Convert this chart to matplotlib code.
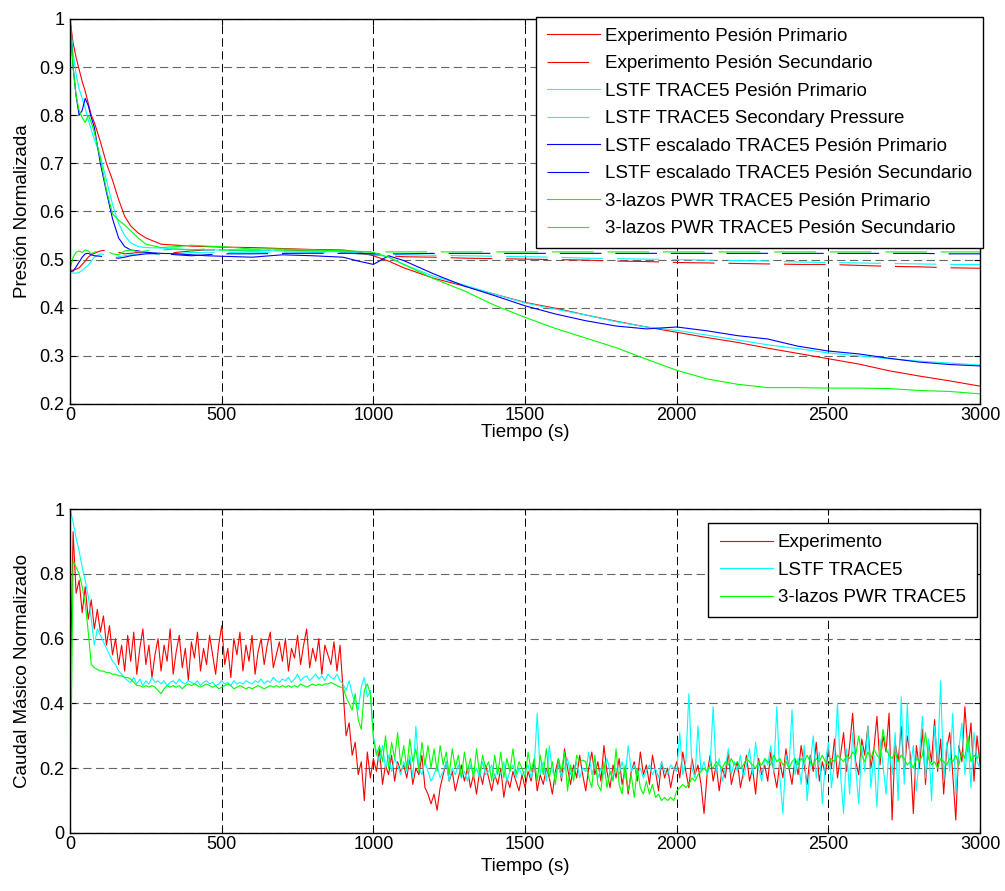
#!/usr/bin/env python
import numpy as np
import matplotlib
matplotlib.use("Agg")
import matplotlib.pyplot as plt
from matplotlib.ticker import FormatStrFormatter

plt.rcParams['font.family'] = ['Liberation Sans', 'DejaVu Sans']
plt.rcParams['lines.scale_dashes'] = False

# ---- presion normalizada (figura superior) ----
t_pres = [0, 10, 20, 30, 40, 50, 60, 70, 80, 100, 120, 140, 160, 180, 200, 225, 250,
          300, 350, 400, 450, 500, 600, 700, 800, 900, 950, 1000, 1050, 1100, 1200,
          1300, 1400, 1500, 1600, 1700, 1800, 1900, 2000, 2100, 2200, 2300, 2400,
          2500, 2600, 2700, 2800, 2900, 3000]

exp_prim = [1.0, 0.95, 0.92, 0.895, 0.87, 0.85, 0.825, 0.80, 0.785,
            0.745, 0.70, 0.665, 0.625, 0.59, 0.57, 0.555, 0.545,
            0.532, 0.53, 0.528, 0.527, 0.526, 0.525, 0.523, 0.521, 0.52,
            0.516, 0.508, 0.497,
            0.483, 0.461, 0.445, 0.428, 0.411, 0.399, 0.385, 0.372, 0.36, 0.349,
            0.338, 0.328, 0.316, 0.305, 0.294, 0.283, 0.269, 0.258, 0.248, 0.237]
exp_sec = [0.478, 0.478, 0.48, 0.483, 0.49, 0.497, 0.505, 0.51, 0.513,
           0.518, 0.52, 0.518, 0.515, 0.512, 0.513, 0.515, 0.515,
           0.51, 0.515, 0.518, 0.52, 0.52, 0.518, 0.52, 0.518, 0.515,
           0.512, 0.51, 0.508,
           0.506, 0.505, 0.503, 0.502, 0.501, 0.5, 0.499, 0.497, 0.496, 0.494,
           0.493, 0.492, 0.491, 0.49, 0.49, 0.488, 0.486, 0.485, 0.483, 0.482]
lstf_prim = [1.0, 0.93, 0.885, 0.855, 0.835, 0.815, 0.79, 0.77, 0.75,
             0.715, 0.665, 0.615, 0.575, 0.55, 0.535, 0.527, 0.525,
             0.524, 0.522, 0.521, 0.52, 0.52, 0.519, 0.518, 0.517, 0.516,
             0.514, 0.512, 0.505,
             0.49, 0.465, 0.447, 0.428, 0.41, 0.397, 0.385, 0.371, 0.36, 0.353,
             0.343, 0.333, 0.323, 0.315, 0.306, 0.3, 0.294, 0.289, 0.285, 0.281]
lstf_sec = [0.473, 0.472, 0.472, 0.473, 0.478, 0.483, 0.488, 0.497, 0.505,
            0.512, 0.51, 0.508, 0.506, 0.508, 0.51, 0.512, 0.515,
            0.51, 0.512, 0.515, 0.514, 0.515, 0.514, 0.516, 0.515, 0.514,
            0.512, 0.512, 0.511,
            0.51, 0.509, 0.508, 0.507, 0.506, 0.505, 0.503, 0.502, 0.501, 0.5,
            0.499, 0.498, 0.497, 0.495, 0.494, 0.493, 0.492, 0.491, 0.49, 0.49]
esc_prim = [1.0, 0.90, 0.84, 0.80, 0.81, 0.835, 0.82, 0.795, 0.775,
            0.70, 0.64, 0.585, 0.545, 0.527, 0.52, 0.518, 0.515,
            0.513, 0.512, 0.51, 0.508, 0.507, 0.505, 0.51, 0.508, 0.505,
            0.497, 0.49, 0.508,
            0.498, 0.47, 0.445, 0.425, 0.404, 0.387, 0.373, 0.362, 0.356, 0.36,
            0.352, 0.342, 0.335, 0.32, 0.31, 0.304, 0.295, 0.287, 0.282, 0.279]
esc_sec = [0.475, 0.476, 0.485, 0.495, 0.505, 0.512, 0.513, 0.51, 0.508,
           0.507, 0.505, 0.504, 0.503, 0.505, 0.508, 0.51, 0.512,
           0.513, 0.51, 0.508, 0.51, 0.512, 0.512, 0.513, 0.513, 0.513,
           0.513, 0.512, 0.512,
           0.512, 0.513, 0.513, 0.513, 0.513, 0.513, 0.513, 0.513, 0.513, 0.513,
           0.513, 0.513, 0.513, 0.513, 0.513, 0.513, 0.513, 0.513, 0.512, 0.512]
pwr_prim = [1.0, 0.90, 0.84, 0.81, 0.795, 0.785, 0.80, 0.785, 0.765,
            0.71, 0.645, 0.595, 0.582, 0.572, 0.56, 0.545, 0.532,
            0.525, 0.527, 0.53, 0.528, 0.527, 0.522, 0.522, 0.52, 0.518,
            0.517, 0.515, 0.505,
            0.49, 0.46, 0.435, 0.405, 0.38, 0.357, 0.337, 0.317, 0.293, 0.27,
            0.252, 0.241, 0.234, 0.234, 0.233, 0.233, 0.232, 0.228, 0.226, 0.221]
pwr_sec = [0.48, 0.505, 0.515, 0.518, 0.515, 0.52, 0.518, 0.512, 0.515,
           0.52, 0.518, 0.512, 0.51, 0.518, 0.52, 0.516, 0.518,
           0.52, 0.522, 0.52, 0.522, 0.52, 0.52, 0.52, 0.52, 0.518,
           0.517, 0.516, 0.516,
           0.516, 0.516, 0.516, 0.516, 0.516, 0.516, 0.516, 0.516, 0.516, 0.516,
           0.516, 0.516, 0.516, 0.516, 0.516, 0.516, 0.516, 0.516, 0.516, 0.516]

pres_labels = ['Experimento Pesión Primario', 'Experimento Pesión Secundario',
               'LSTF TRACE5 Pesión Primario', 'LSTF TRACE5 Secondary Pressure',
               'LSTF escalado TRACE5 Pesión Primario', 'LSTF escalado TRACE5 Pesión Secundario',
               '3-lazos PWR TRACE5 Pesión Primario', '3-lazos PWR TRACE5 Pesión Secundario']

# ---- caudal masico normalizado (figura inferior), muestreo cada 10 s ----
t_flow = np.arange(0, 3001, 10)

flow_exp = [
    0.42, 0.93, 0.74, 0.78, 0.68, 0.76, 0.66, 0.72, 0.63, 0.69,
    0.62, 0.67, 0.58, 0.64, 0.55, 0.60, 0.52, 0.58, 0.50, 0.61,
    0.53, 0.62, 0.49, 0.57, 0.63, 0.52, 0.58, 0.48, 0.55, 0.60,
    0.50, 0.58, 0.53, 0.63, 0.49, 0.56, 0.61, 0.51, 0.57, 0.47,
    0.59, 0.54, 0.62, 0.50, 0.57, 0.52, 0.61, 0.55, 0.49, 0.58,
    0.64, 0.52, 0.57, 0.48, 0.60, 0.55, 0.62, 0.50, 0.58, 0.53,
    0.61, 0.49, 0.56, 0.60, 0.52, 0.58, 0.62, 0.51, 0.55, 0.59,
    0.53, 0.60, 0.50, 0.57, 0.54, 0.61, 0.52, 0.58, 0.63, 0.51,
    0.57, 0.53, 0.60, 0.49, 0.58, 0.55, 0.52, 0.59, 0.50, 0.58,
    0.44, 0.30, 0.34, 0.24, 0.28, 0.18, 0.22, 0.10, 0.25, 0.17,
    0.23, 0.19, 0.26, 0.15, 0.21, 0.18, 0.24, 0.16, 0.22, 0.19,
    0.21, 0.17, 0.23, 0.15, 0.20, 0.18, 0.24, 0.14, 0.12, 0.09,
    0.12, 0.07, 0.14, 0.18, 0.22, 0.16, 0.19, 0.13, 0.17, 0.21,
    0.16, 0.20, 0.14, 0.18, 0.12, 0.19, 0.15, 0.21, 0.17, 0.13,
    0.18, 0.15, 0.20, 0.11, 0.17, 0.14, 0.19, 0.16, 0.13, 0.18,
    0.14, 0.19, 0.16, 0.22, 0.13, 0.18, 0.15, 0.20, 0.17, 0.12,
    0.19, 0.23, 0.16, 0.26, 0.20, 0.15, 0.21, 0.17, 0.24, 0.18,
    0.13, 0.20, 0.25, 0.18, 0.22, 0.16, 0.27, 0.19, 0.14, 0.21,
    0.17, 0.23, 0.15, 0.20, 0.12, 0.19, 0.22, 0.16, 0.25, 0.18,
    0.21, 0.15, 0.24, 0.19, 0.13, 0.22, 0.17, 0.20, 0.14, 0.19,
    0.22, 0.17, 0.25, 0.19, 0.14, 0.23, 0.18, 0.21, 0.15, 0.06,
    0.18, 0.24, 0.16, 0.21, 0.13, 0.20, 0.17, 0.25, 0.15, 0.19,
    0.22, 0.14, 0.19, 0.24, 0.16, 0.20, 0.12, 0.23, 0.18, 0.21,
    0.16, 0.25, 0.19, 0.14, 0.22, 0.17, 0.26, 0.20, 0.15, 0.23,
    0.18, 0.27, 0.21, 0.15, 0.24, 0.19, 0.28, 0.16, 0.22, 0.18,
    0.26, 0.20, 0.29, 0.17, 0.24, 0.31, 0.19, 0.27, 0.37, 0.22,
    0.18, 0.29, 0.24, 0.33, 0.20, 0.26, 0.36, 0.21, 0.30, 0.25,
    0.37, 0.04, 0.28, 0.22, 0.33, 0.18, 0.30, 0.24, 0.06, 0.27,
    0.20, 0.32, 0.15, 0.28, 0.22, 0.35, 0.19, 0.29, 0.12, 0.26,
    0.31, 0.18, 0.04, 0.27, 0.22, 0.39, 0.25, 0.34, 0.16, 0.30,
    0.21]

flow_lstf = [
    1.00, 0.96, 0.91, 0.87, 0.82, 0.78, 0.73, 0.66, 0.58, 0.63,
    0.61, 0.59, 0.57, 0.55, 0.53, 0.52, 0.50, 0.49, 0.48, 0.47,
    0.465, 0.48, 0.46, 0.475, 0.455, 0.47, 0.46, 0.48, 0.465, 0.47,
    0.46, 0.47, 0.455, 0.465, 0.47, 0.46, 0.475, 0.465, 0.46, 0.47,
    0.465, 0.46, 0.47, 0.455, 0.465, 0.47, 0.46, 0.465, 0.455, 0.46,
    0.47, 0.46, 0.465, 0.455, 0.47, 0.46, 0.465, 0.46, 0.47, 0.465,
    0.46, 0.47, 0.465, 0.475, 0.46, 0.47, 0.465, 0.48, 0.47, 0.465,
    0.475, 0.47, 0.48, 0.465, 0.475, 0.49, 0.47, 0.48, 0.485, 0.47,
    0.48, 0.49, 0.475, 0.485, 0.47, 0.49, 0.48, 0.475, 0.49, 0.47,
    0.46, 0.44, 0.47, 0.43, 0.40, 0.38, 0.45, 0.48, 0.42, 0.44,
    0.30, 0.25, 0.22, 0.27, 0.20, 0.24, 0.19, 0.23, 0.21, 0.18,
    0.22, 0.19, 0.24, 0.17, 0.33, 0.20, 0.18, 0.22, 0.19, 0.16,
    0.18, 0.21, 0.17, 0.19, 0.22, 0.16, 0.20, 0.18, 0.21, 0.17,
    0.19, 0.16, 0.21, 0.18, 0.20, 0.17, 0.22, 0.18, 0.19, 0.21,
    0.17, 0.20, 0.18, 0.22, 0.16, 0.19, 0.21, 0.17, 0.20, 0.18,
    0.19, 0.21, 0.17, 0.20, 0.37, 0.18, 0.22, 0.16, 0.27, 0.19,
    0.18, 0.21, 0.17, 0.20, 0.23, 0.18, 0.19, 0.22, 0.17, 0.20,
    0.19, 0.25, 0.18, 0.21, 0.17, 0.20, 0.18, 0.23, 0.19, 0.17,
    0.20, 0.18, 0.22, 0.17, 0.27, 0.19, 0.21, 0.18, 0.20, 0.17,
    0.19, 0.21, 0.18, 0.20, 0.17, 0.22, 0.19, 0.18, 0.21, 0.20,
    0.19, 0.31, 0.18, 0.22, 0.43, 0.20, 0.17, 0.33, 0.19, 0.22,
    0.18, 0.21, 0.39, 0.19, 0.23, 0.16, 0.20, 0.26, 0.18, 0.22,
    0.19, 0.24, 0.17, 0.21, 0.26, 0.18, 0.28, 0.20, 0.16, 0.23,
    0.21, 0.27, 0.19, 0.39, 0.17, 0.06, 0.24, 0.20, 0.38, 0.18,
    0.23, 0.15, 0.27, 0.10, 0.21, 0.30, 0.17, 0.25, 0.09, 0.22,
    0.28, 0.14, 0.22, 0.40, 0.18, 0.06, 0.26, 0.12, 0.31, 0.20,
    0.09, 0.27, 0.19, 0.33, 0.14, 0.24, 0.08, 0.29, 0.21, 0.12,
    0.26, 0.18, 0.31, 0.10, 0.42, 0.15, 0.40, 0.20, 0.27, 0.13,
    0.24, 0.36, 0.17, 0.29, 0.10, 0.33, 0.22, 0.47, 0.16, 0.28,
    0.19, 0.37, 0.12, 0.26, 0.34, 0.18, 0.29, 0.14, 0.31, 0.22,
    0.20]

flow_pwr = [
    0.00, 0.84, 0.82, 0.80, 0.76, 0.71, 0.62, 0.52, 0.51, 0.505,
    0.50, 0.50, 0.495, 0.495, 0.49, 0.49, 0.485, 0.485, 0.48, 0.48,
    0.475, 0.465, 0.455, 0.455, 0.45, 0.455, 0.45, 0.455, 0.45, 0.44,
    0.43, 0.445, 0.455, 0.45, 0.455, 0.45, 0.455, 0.445, 0.455, 0.46,
    0.455, 0.46, 0.455, 0.45, 0.455, 0.46, 0.455, 0.45, 0.455, 0.445,
    0.45, 0.455, 0.46, 0.455, 0.445, 0.45, 0.455, 0.45, 0.445, 0.45,
    0.445, 0.45, 0.455, 0.45, 0.445, 0.45, 0.455, 0.45, 0.455, 0.45,
    0.455, 0.45, 0.455, 0.45, 0.455, 0.45, 0.46, 0.455, 0.45, 0.455,
    0.46, 0.455, 0.46, 0.455, 0.46, 0.46, 0.465, 0.46, 0.455, 0.45,
    0.45, 0.42, 0.40, 0.38, 0.43, 0.35, 0.32, 0.44, 0.46, 0.43,
    0.29, 0.24, 0.27, 0.22, 0.30, 0.20, 0.28, 0.23, 0.31, 0.21,
    0.27, 0.20, 0.29, 0.22, 0.26, 0.19, 0.28, 0.21, 0.27, 0.20,
    0.26, 0.19, 0.27, 0.21, 0.25, 0.18, 0.26, 0.20, 0.24, 0.17,
    0.25, 0.19, 0.23, 0.17, 0.26, 0.18, 0.24, 0.20, 0.22, 0.16,
    0.24, 0.18, 0.25, 0.17, 0.23, 0.19, 0.26, 0.18, 0.22, 0.20,
    0.17, 0.25, 0.19, 0.23, 0.16, 0.24, 0.18, 0.26, 0.17, 0.22,
    0.15, 0.23, 0.19, 0.25, 0.13, 0.21, 0.16, 0.24, 0.22, 0.225,
    0.22, 0.17, 0.14, 0.24, 0.15, 0.13, 0.22, 0.14, 0.19, 0.16,
    0.26, 0.15, 0.12, 0.21, 0.13, 0.18, 0.11, 0.20, 0.14, 0.12,
    0.16, 0.12, 0.15, 0.11, 0.12, 0.10, 0.11, 0.10, 0.11, 0.10,
    0.13, 0.14, 0.15, 0.14, 0.15, 0.17, 0.16, 0.18, 0.19, 0.20,
    0.19, 0.21, 0.20, 0.22, 0.21, 0.20, 0.22, 0.21, 0.23, 0.21,
    0.22, 0.20, 0.21, 0.23, 0.22, 0.21, 0.20, 0.22, 0.21, 0.23,
    0.22, 0.21, 0.24, 0.22, 0.23, 0.21, 0.22, 0.20, 0.22, 0.23,
    0.21, 0.23, 0.22, 0.24, 0.22, 0.21, 0.23, 0.22, 0.24, 0.22,
    0.21, 0.23, 0.22, 0.24, 0.23, 0.22, 0.24, 0.23, 0.25, 0.24,
    0.30, 0.24, 0.22, 0.25, 0.23, 0.26, 0.24, 0.23, 0.32, 0.26,
    0.24, 0.23, 0.25, 0.22, 0.24, 0.23, 0.21, 0.22, 0.20, 0.23,
    0.22, 0.24, 0.31, 0.23, 0.21, 0.22, 0.20, 0.23, 0.22, 0.21,
    0.23, 0.22, 0.24, 0.21, 0.25, 0.23, 0.30, 0.22, 0.24, 0.23,
    0.25]

flow_labels = ['Experimento', 'LSTF TRACE5', '3-lazos PWR TRACE5']

RED, CYAN, BLUE, GREEN = '#ff0000', '#00ffff', '#0000ff', '#00ff00'
LW = 0.8
SEC_DASH = (0, (30, 10))
FS = 13.5


def styleAxes(ax, ylim, yticks, xlabpad):
    ax.set_xlim(0, 3000)
    ax.set_ylim(*ylim)
    ax.set_xticks(range(0, 3001, 500))
    ax.set_yticks(yticks)
    ax.yaxis.set_major_formatter(FormatStrFormatter('%g'))
    ax.tick_params(direction='in', length=4, width=0.8, top=True, right=True,
                   labelsize=13, pad=4)
    ax.tick_params(axis='x', pad=2)
    ax.xaxis.grid(True, color='k', lw=0.7, ls=(0, (6, 3.2)))
    ax.yaxis.grid(True, color='0.4', lw=0.8, ls=(0, (6, 3.2)))
    for s in ax.spines.values():
        s.set_linewidth(1.0)
    ax.set_xlabel('Tiempo (s)', fontsize=FS, labelpad=xlabpad)


def makeLegend(ax, anchor, pad):
    leg = ax.legend(loc='upper right', bbox_to_anchor=anchor, fontsize=FS,
                    frameon=True, fancybox=False, framealpha=1, edgecolor='k',
                    handlelength=2.85, handletextpad=0.25, borderpad=pad,
                    labelspacing=0.55, borderaxespad=0)
    leg.get_frame().set_linewidth(1.0)
    return leg


fig = plt.figure(figsize=(10.05, 8.91), dpi=100)

# figura superior
ax1 = fig.add_axes([0.0697, 0.5466, 0.9055, 0.4321])
series = [(exp_prim, RED, '-'), (exp_sec, RED, SEC_DASH),
          (lstf_prim, CYAN, '-'), (lstf_sec, CYAN, SEC_DASH),
          (esc_prim, BLUE, '-'), (esc_sec, BLUE, SEC_DASH),
          (pwr_prim, GREEN, '-'), (pwr_sec, GREEN, SEC_DASH)]
for (vals, col, ls), lab in zip(series, pres_labels):
    ax1.plot(t_pres, vals, color=col, ls=ls, lw=LW, label=lab)
styleAxes(ax1, (0.2, 1.0), np.round(np.arange(0.2, 1.01, 0.1), 1), 0)
ax1.set_ylabel('Presión Normalizada', fontsize=FS, labelpad=6)
makeLegend(ax1, (1.003, 1.005), 0.58)

# figura inferior
ax2 = fig.add_axes([0.0697, 0.0651, 0.9055, 0.3636])
ax2.plot(t_flow, flow_exp, color=RED, lw=LW, label=flow_labels[0])
ax2.plot(t_flow, flow_lstf, color=CYAN, lw=LW, label=flow_labels[1])
ax2.plot(t_flow, flow_pwr, color=GREEN, lw=LW, label=flow_labels[2])
styleAxes(ax2, (0, 1.0), [0, 0.2, 0.4, 0.6, 0.8, 1.0], 4)
ax2.set_ylabel('Caudal Másico Normalizado', fontsize=FS, labelpad=6)
makeLegend(ax2, (0.9967, 0.957), 0.6)

fig.savefig('out.png', dpi=100)
